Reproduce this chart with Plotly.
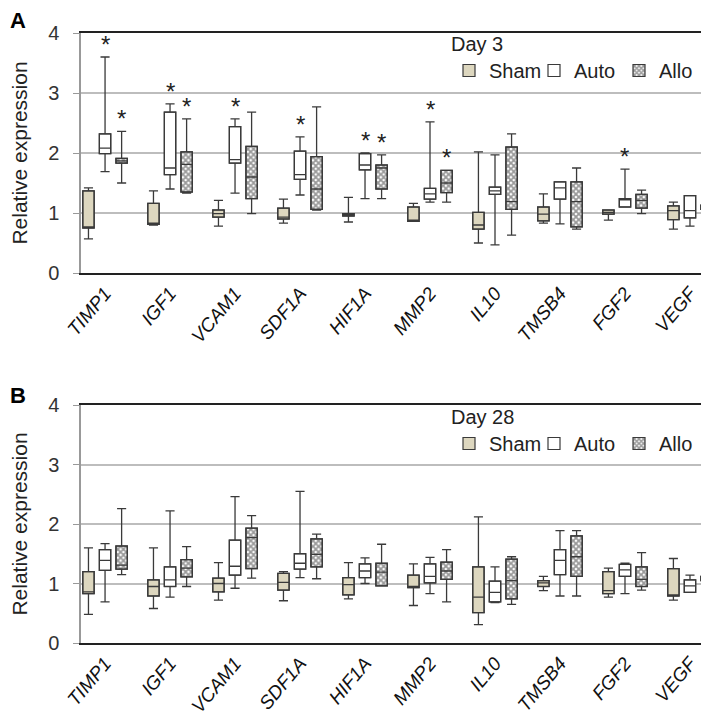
import plotly.graph_objects as go

genes = ["TIMP1", "IGF1", "VCAM1", "SDF1A", "HIF1A", "MMP2", "IL10", "TMSB4", "FGF2", "VEGF"]
groups = ["Sham", "Auto", "Allo"]

# (lower whisker, Q1, median, Q3, upper whisker) per gene
d3_sham = [(0.57, 0.75, 0.77, 1.37, 1.42), (0.80, 0.81, 0.83, 1.16, 1.37), (0.78, 0.93, 0.99, 1.05, 1.21),
           (0.83, 0.90, 0.93, 1.08, 1.23), (0.85, 0.95, 0.98, 0.99, 1.26), (0.86, 0.86, 0.88, 1.10, 1.16),
           (0.50, 0.73, 0.80, 1.01, 2.02), (0.83, 0.87, 0.98, 1.10, 1.32), (0.88, 0.98, 1.01, 1.05, 1.05),
           (0.73, 0.89, 1.04, 1.12, 1.18)]
d3_auto = [(1.69, 1.99, 2.08, 2.32, 3.60), (1.40, 1.64, 1.75, 2.68, 2.82), (1.33, 1.83, 1.89, 2.44, 2.57),
           (1.30, 1.56, 1.64, 2.03, 2.27), (1.24, 1.72, 1.80, 1.99, 2.00), (1.18, 1.23, 1.32, 1.41, 2.52),
           (0.47, 1.31, 1.37, 1.43, 1.97), (0.82, 1.23, 1.42, 1.52, 1.52), (1.10, 1.10, 1.22, 1.24, 1.73),
           (0.78, 0.92, 1.04, 1.29, 1.29)]
d3_allo = [(1.50, 1.83, 1.87, 1.91, 2.36), (1.33, 1.35, 1.81, 2.02, 2.57), (0.99, 1.24, 1.60, 2.11, 2.68),
           (1.05, 1.06, 1.40, 1.94, 2.77), (1.24, 1.40, 1.75, 1.80, 1.97), (1.18, 1.34, 1.50, 1.71, 1.71),
           (0.63, 1.06, 1.19, 2.10, 2.32), (0.73, 0.77, 1.19, 1.52, 1.75), (0.99, 1.08, 1.21, 1.31, 1.38),
           (0.93, 1.06, 1.10, 1.13, 1.22)]

d28_sham = [(0.48, 0.83, 0.86, 1.20, 1.60), (0.58, 0.79, 0.95, 1.06, 1.60), (0.72, 0.86, 1.00, 1.09, 1.35),
            (0.71, 0.89, 1.02, 1.17, 1.20), (0.74, 0.81, 0.98, 1.10, 1.35), (0.63, 0.93, 0.95, 1.14, 1.33),
            (0.31, 0.51, 0.77, 1.28, 2.12), (0.88, 0.95, 1.01, 1.05, 1.12), (0.77, 0.83, 0.88, 1.20, 1.26),
            (0.72, 0.79, 0.81, 1.25, 1.42)]
d28_auto = [(0.69, 1.22, 1.39, 1.57, 1.67), (0.77, 0.95, 1.06, 1.28, 2.22), (0.92, 1.14, 1.29, 1.73, 2.46),
            (1.10, 1.24, 1.34, 1.50, 2.55), (1.00, 1.10, 1.21, 1.33, 1.43), (0.83, 1.01, 1.12, 1.33, 1.44),
            (0.68, 0.69, 0.85, 1.04, 1.28), (0.79, 1.15, 1.39, 1.57, 1.89), (0.83, 1.12, 1.23, 1.32, 1.34),
            (0.85, 0.85, 0.96, 1.06, 1.14)]
d28_allo = [(1.15, 1.24, 1.31, 1.63, 2.26), (0.95, 1.11, 1.26, 1.40, 1.62), (1.09, 1.25, 1.77, 1.93, 2.14),
            (1.08, 1.28, 1.49, 1.75, 1.83), (0.96, 0.96, 1.19, 1.34, 1.66), (0.69, 1.07, 1.21, 1.36, 1.57),
            (0.65, 0.74, 1.05, 1.41, 1.45), (0.79, 1.12, 1.45, 1.80, 1.89), (0.89, 0.95, 1.07, 1.28, 1.52),
            (1.05, 1.05, 1.09, 1.12, 1.22)]

# significance flags (*) for Day 3
d3_sig_auto = [1, 1, 1, 1, 1, 1, 0, 0, 1, 0]
d3_sig_allo = [1, 1, 0, 0, 1, 1, 0, 0, 0, 0]
d28_sig_auto = [0] * 10
d28_sig_allo = [0] * 10

y_ticks = [0, 1, 2, 3, 4]

FONT = "Arial, Liberation Sans, sans-serif"
LINE = "#3a3a3a"
offsets = {"Sham": -0.255, "Auto": 0.0, "Allo": 0.255}
fills = {"Sham": "#ddd7bf", "Auto": "#ffffff", "Allo": "#ffffff"}
BW = 0.175

fig = go.Figure()

panels = [
    ("x", "y", "legend", "Day 3", {"Sham": d3_sham, "Auto": d3_auto, "Allo": d3_allo},
     {"Auto": d3_sig_auto, "Allo": d3_sig_allo}),
    ("x2", "y2", "legend2", "Day 28", {"Sham": d28_sham, "Auto": d28_auto, "Allo": d28_allo},
     {"Auto": d28_sig_auto, "Allo": d28_sig_allo}),
]

annotations = []
# bodies (bars) first so they sit underneath the box outlines
for xa, ya, lg, title, data, sig in panels:
    for g in groups:
        stats = data[g]
        xs = [i + offsets[g] for i in range(len(genes))]
        marker = dict(color=fills[g], line=dict(color=LINE, width=1.2))
        if g == "Allo":
            marker["pattern"] = dict(shape="x", size=4, solidity=0.7, fgcolor="#333333", bgcolor="#ffffff")
        fig.add_trace(go.Bar(
            x=xs, base=[s[1] for s in stats], y=[s[3] - s[1] for s in stats],
            width=BW, marker=marker, name=g, xaxis=xa, yaxis=ya, legend=lg,
            showlegend=True, hoverinfo="skip"))
for xa, ya, lg, title, data, sig in panels:
    for g in groups:
        stats = data[g]
        xs = [i + offsets[g] for i in range(len(genes))]
        fig.add_trace(go.Box(
            x=xs,
            lowerfence=[s[0] for s in stats], q1=[s[1] for s in stats], median=[s[2] for s in stats],
            q3=[s[3] for s in stats], upperfence=[s[4] for s in stats],
            width=BW, whiskerwidth=0.8, fillcolor="rgba(0,0,0,0)",
            line=dict(color=LINE, width=1.3), boxpoints=False,
            xaxis=xa, yaxis=ya, showlegend=False, name=g))
        if g in sig:
            for i, s in enumerate(stats):
                if sig[g][i]:
                    annotations.append(dict(
                        x=i + offsets[g], y=s[4], xref=xa, yref=ya, text="*", showarrow=False,
                        yanchor="bottom", yshift=-3, font=dict(family=FONT, size=24, color="#222")))

# paper mapping helpers (figure 709x718, margins l=73 r=2 t=25 b=83)
W, H = 709, 718
L, R, T, B = 73, 2, 25, 83
PW, PH = W - L - R, H - T - B


def px_x(p):
    return (p - L) / PW


def px_y(p):
    return (H - B - p) / PH


dom_a = [px_y(265), 1.0]
dom_b = [0.0, px_y(397)]

xrange_ = [-0.37, 9.385]
xaxis_common = dict(range=xrange_, tickvals=list(range(len(genes))),
                    ticktext=["<i>%s</i>" % g for g in genes], tickangle=-50,
                    tickfont=dict(family=FONT, size=19, color="#111"),
                    showgrid=False, zeroline=False, showline=True, linecolor="#222", linewidth=1.5,
                    mirror=True, ticks="")
yaxis_common = dict(range=[0, 4], tickvals=y_ticks, showgrid=True, gridcolor="#bdbdbd", gridwidth=1.6,
                    zeroline=False, showline=True, linecolor="#999", linewidth=1.5, ticks="outside",
                    ticklen=6, tickcolor="#999", ticklabelstandoff=10,
                    tickfont=dict(family=FONT, size=20, color="#333"),
                    title=dict(text="Relative expression", font=dict(family=FONT, size=21, color="#222"),
                               standoff=22))

annotations += [
    dict(text="<b>A</b>", x=px_x(10), y=px_y(12), xref="paper", yref="paper", showarrow=False,
         xanchor="center", yanchor="middle", font=dict(family=FONT, size=22, color="#000")),
    dict(text="<b>B</b>", x=px_x(10), y=px_y(388), xref="paper", yref="paper", showarrow=False,
         xanchor="center", yanchor="middle", font=dict(family=FONT, size=22, color="#000")),
]

shapes = []
for xa, ya in (("x", "y"), ("x2", "y2")):
    shapes.append(dict(type="line", xref=xa + " domain", yref=ya + " domain", x0=1, x1=1, y0=0, y1=1,
                       line=dict(color="#222", width=1.5)))

legend_common = dict(orientation="h", xanchor="left", yanchor="top", bgcolor="rgba(0,0,0,0)",
                     font=dict(family=FONT, size=20, color="#222"), itemclick=False,
                     itemdoubleclick=False, tracegroupgap=0, entrywidth=40)

fig.update_layout(
    width=W, height=H, margin=dict(l=L, r=R, t=T, b=B, autoexpand=False),
    plot_bgcolor="white", paper_bgcolor="white",
    barmode="overlay", boxmode="overlay",
    xaxis=dict(domain=[0, 1], anchor="y", **xaxis_common),
    yaxis=dict(domain=dom_a, anchor="x", **yaxis_common),
    xaxis2=dict(domain=[0, 1], anchor="y2", **xaxis_common),
    yaxis2=dict(domain=dom_b, anchor="x2", **yaxis_common),
    legend=dict(x=px_x(441), y=px_y(17), title=dict(text="Day 3", side="top",
                font=dict(family=FONT, size=20, color="#222")), **legend_common),
    legend2=dict(x=px_x(441), y=px_y(390), title=dict(text="Day 28", side="top",
                 font=dict(family=FONT, size=20, color="#222")), **legend_common),
    annotations=annotations, shapes=shapes, showlegend=True,
)

fig.write_html("out.html")
